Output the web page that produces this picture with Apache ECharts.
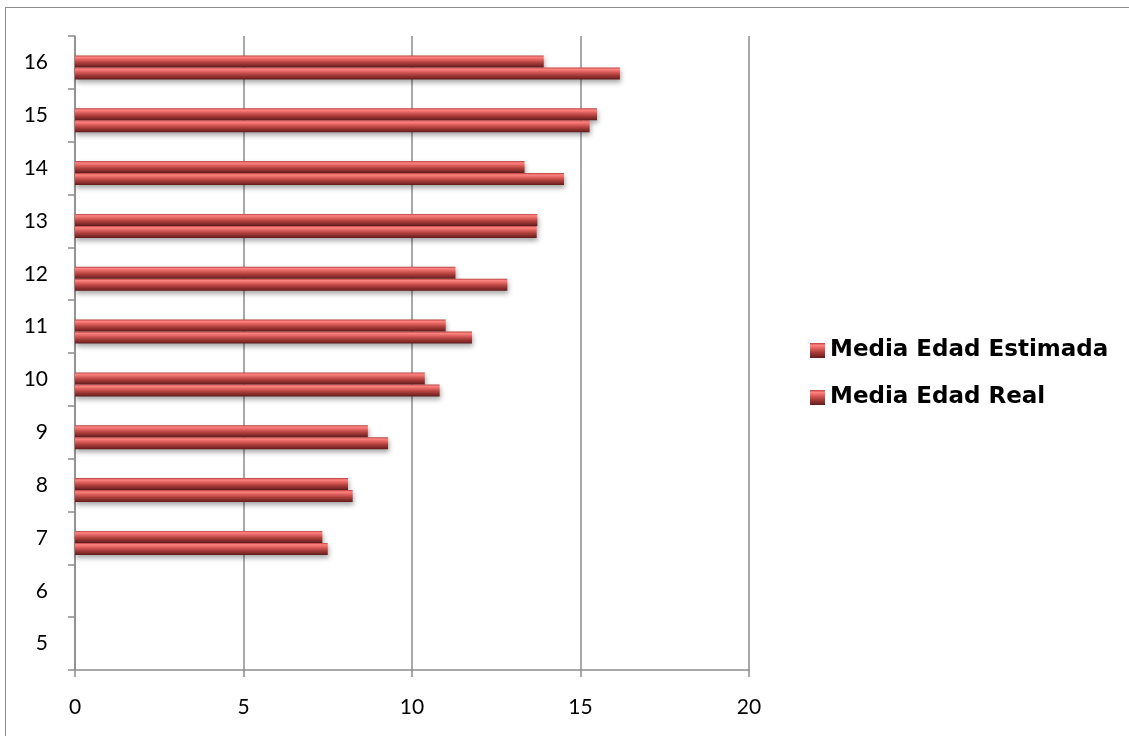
<!DOCTYPE html>
<html>
<head>
<meta charset="utf-8">
<script src="https://cdn.jsdelivr.net/npm/echarts@6/dist/echarts.min.js"></script>
<style>
html,body{margin:0;padding:0;background:#fff;}
#frame{position:absolute;left:5px;top:7px;width:1130px;height:740px;border:1px solid #8c8c8c;box-sizing:border-box;}
#chart{position:absolute;left:0;top:0;width:1129px;height:736px;}
</style>
</head>
<body>
<div id="frame"></div>
<div id="chart"></div>
<script>
const categories = ['5','6','7','8','9','10','11','12','13','14','15','16'];
const estimada = [null, null, 7.34, 8.10, 8.69, 10.38, 11.00, 11.29, 13.72, 13.34, 15.49, 13.91];
const real =     [null, null, 7.50, 8.24, 9.29, 10.82, 11.78, 12.83, 13.70, 14.51, 15.27, 16.17];
const xTicks = {min: 0, max: 20, interval: 5};
const seriesNames = ['Media Edad Estimada', 'Media Edad Real'];

const barColor = new echarts.graphic.LinearGradient(0, 0, 0, 1, [
  {offset: 0, color: '#b8403e'},
  {offset: 0.15, color: '#ff8482'},
  {offset: 0.35, color: '#e0625f'},
  {offset: 0.6, color: '#b0403d'},
  {offset: 0.8, color: '#8a2e2c'},
  {offset: 1, color: '#5e1c1b'}
]);
const itemStyle = {
  color: barColor,
  shadowColor: 'rgba(0,0,0,0.35)',
  shadowBlur: 5,
  shadowOffsetY: 3,
  shadowOffsetX: 1
};

const chart = echarts.init(document.getElementById('chart'), null, {renderer: 'canvas'});
chart.setOption({
  animation: false,
  backgroundColor: 'transparent',
  grid: {left: 75, right: 380, top: 36, bottom: 66, containLabel: false},
  legend: {
    orient: 'vertical',
    left: 805,
    top: 334,
    icon: 'rect',
    itemWidth: 15,
    itemHeight: 15,
    itemGap: 24,
    data: seriesNames,
    textStyle: {fontFamily: 'DejaVu Sans', fontWeight: 'bold', fontSize: 23, color: '#000'}
  },
  xAxis: {
    type: 'value',
    min: xTicks.min, max: xTicks.max, interval: xTicks.interval,
    axisLine: {show: true, lineStyle: {color: '#8c8c8c', width: 1.5}},
    axisTick: {show: true, inside: false, length: 7, lineStyle: {color: '#8c8c8c', width: 1.5}},
    splitLine: {show: true, lineStyle: {color: '#8c8c8c', width: 1.5}},
    axisLabel: {color: '#000', fontFamily: 'Lato', fontSize: 21, margin: 27}
  },
  yAxis: {
    type: 'category',
    data: categories,
    boundaryGap: true,
    axisLine: {show: true, lineStyle: {color: '#8c8c8c', width: 1.5}},
    axisTick: {show: true, inside: false, length: 7, lineStyle: {color: '#8c8c8c', width: 1.5}},
    splitLine: {show: false},
    axisLabel: {color: '#000', fontFamily: 'Lato', fontSize: 21, margin: 27}
  },
  series: [
    {name: 'spacer', type: 'bar', data: [], barWidth: 10, barGap: '0%', silent: true},
    {name: seriesNames[0], type: 'bar', data: estimada, barWidth: 12, barGap: '0%', itemStyle: itemStyle},
    {name: seriesNames[1], type: 'bar', data: real, barWidth: 12, barGap: '0%', itemStyle: itemStyle}
  ]
});
</script>
</body>
</html>
